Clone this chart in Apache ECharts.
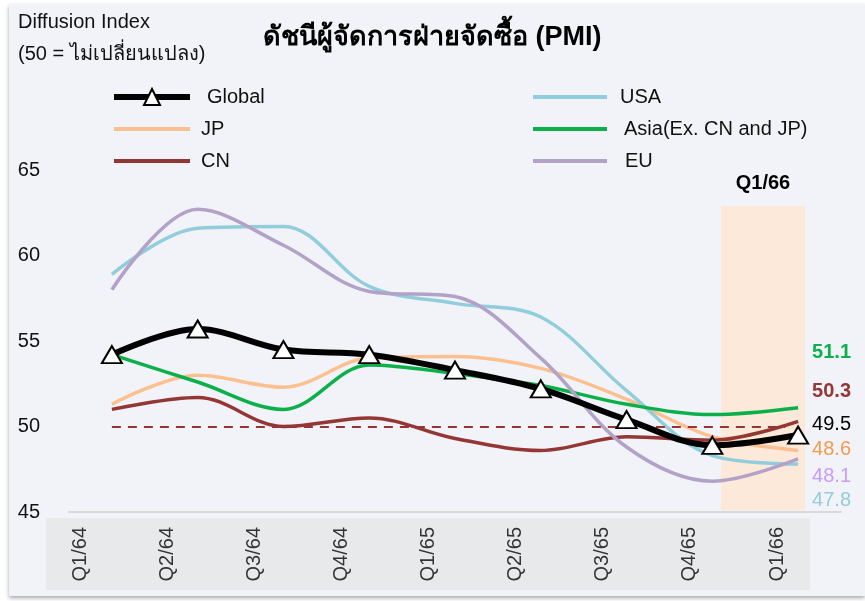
<!DOCTYPE html>
<html lang="th">
<head>
    <meta charset="UTF-8">
    <title>PMI</title>
    <script src="https://cdn.jsdelivr.net/npm/echarts@6/dist/echarts.min.js"></script>
    <style>
        body { margin: 0; background: #fff; }
        #main { width: 865px; height: 601px; }
    </style>
</head>
<body>
<div id="main"></div>

<script type="text/javascript">

    // quarters (Thai Buddhist year)
    var quarters = ['Q1/64', 'Q2/64', 'Q3/64', 'Q4/64', 'Q1/65', 'Q2/65', 'Q3/65', 'Q4/65', 'Q1/66'];

    var globalPmi = [54.2, 55.7, 54.5, 54.2, 53.3, 52.2, 50.4, 48.9, 49.5];
    var usaPmi    = [58.9, 61.6, 61.7, 58.2, 57.2, 56.4, 52.1, 48.3, 47.8];
    var jpPmi     = [51.3, 53.0, 52.3, 54.0, 54.1, 53.4, 51.6, 49.4, 48.6];
    var asiaPmi   = [54.2, 52.6, 51.0, 53.6, 53.1, 52.4, 51.3, 50.7, 51.1];
    var cnPmi     = [51.0, 51.7, 50.0, 50.5, 49.3, 48.6, 49.4, 49.2, 50.3];
    var euPmi     = [58.0, 62.7, 60.6, 57.9, 57.6, 54.0, 48.8, 46.8, 48.1];

    var FONT = '"Liberation Sans", Arial, "Noto Sans", sans-serif';

    function pairs(arr) {
        return arr.map(function (v, i) { return [i, v]; });
    }

    function lineSeries(name, data, color, width, dy, bold) {
        return {
            name: name,
            type: 'line',
            data: pairs(data),
            smooth: 0.35,
            symbol: 'none',
            lineStyle: { color: color, width: width },
            itemStyle: { color: color },
            endLabel: {
                show: true,
                distance: 14,
                offset: [0, dy],
                color: color,
                fontFamily: FONT,
                fontSize: 20,
                fontWeight: bold ? 'bold' : 'normal',
                formatter: function (p) { return p.value[1].toFixed(1); }
            },
            z: 3
        };
    }

    // plain line legend entry (no symbol)
    function plainItem(name, padLeft) {
        return {
            name: name,
            itemStyle: { opacity: 0 },
            lineStyle: { width: 4 },
            textStyle: { padding: [0, 0, 0, padLeft] }
        };
    }

    var myChart = echarts.init(document.getElementById('main'));

    var series = [
        {
            name: 'Global',
            type: 'line',
            data: pairs(globalPmi),
            smooth: 0.35,
            symbol: 'triangle',
            symbolSize: [20, 17],
            lineStyle: { color: '#000', width: 6 },
            itemStyle: { color: '#fff', borderColor: '#000', borderWidth: 2 },
            endLabel: {
                show: true,
                distance: 14,
                offset: [0, -11],
                color: '#000',
                fontFamily: FONT,
                fontSize: 20,
                formatter: function (p) { return p.value[1].toFixed(1); }
            },
            z: 5
        },
        lineSeries('JP', jpPmi, '#fbc08f', 3.5, -1, false),
        lineSeries('CN', cnPmi, '#943634', 3.5, -30, true),
        lineSeries('USA', usaPmi, '#92cddc', 3.5, 36, false),
        lineSeries('Asia(Ex. CN and JP)', asiaPmi, '#0bb04b', 3.5, -55, true),
        lineSeries('EU', euPmi, '#b3a2c7', 3.5, 17, false)
    ];

    // end label colours differ slightly from the lines for JP / EU
    series[1].endLabel.color = '#f59a4c';
    series[5].endLabel.color = '#c89cf5';

    // highlighted quarter + 50 reference line
    series[2].markLine = {
        silent: true,
        symbol: 'none',
        label: { show: false },
        lineStyle: { color: '#943634', type: [9, 7], width: 2 },
        data: [[{ coord: [0, 50] }, { coord: [7.85, 50] }]]
    };
    series[0].markArea = {
        silent: true,
        itemStyle: { color: '#fde9d9' },
        label: {
            show: true, position: 'top', distance: 12,
            color: '#000', fontFamily: FONT, fontSize: 20, fontWeight: 'bold'
        },
        data: [[{ name: 'Q1/66', coord: [7.1, 45.1] }, { coord: [8.08, 62.9] }]]
    };

    // hidden series for the label axis grid
    series.push({
        type: 'line',
        xAxisIndex: 1,
        yAxisIndex: 1,
        data: quarters.map(function () { return null; }),
        silent: true
    });

    myChart.setOption({
        animation: false,
        backgroundColor: 'transparent',
        textStyle: { fontFamily: FONT },
        graphic: [
            {
                type: 'rect',
                shape: { x: 9, y: 4, width: 856, height: 592 },
                style: { fill: '#f2f3f8', shadowBlur: 4, shadowOffsetY: 2, shadowColor: 'rgba(0,0,0,0.35)' },
                z: -10
            },
            {
                type: 'rect',
                shape: { x: 46, y: 518, width: 764, height: 72 },
                style: { fill: '#e8e9eb' },
                z: -9
            },
            {
                type: 'text', left: 18, top: 12,
                style: { text: 'Diffusion Index', fontSize: 20, fontFamily: FONT, fill: '#111' }
            },
            {
                type: 'text', left: 18, top: 44,
                style: { text: '(50 = ไม่เปลี่ยนแปลง)', fontSize: 20, fontFamily: FONT, fill: '#111' }
            },
            {
                type: 'text', left: 263, top: 24,
                style: { text: 'ดัชนีผู้จัดการฝ่ายจัดซื้อ (PMI)', fontSize: 27, fontWeight: 'bold', fontFamily: FONT, fill: '#000' }
            }
        ],
        legend: [
            {
                left: 106, top: 82, orient: 'vertical', itemGap: 12,
                itemWidth: 76, itemHeight: 20,
                textStyle: { fontSize: 20, fontFamily: FONT, color: '#111' },
                data: [
                    { name: 'Global', lineStyle: { width: 6 }, textStyle: { padding: [0, 0, 0, 12] } },
                    plainItem('JP', 6),
                    plainItem('CN', 6)
                ]
            },
            {
                left: 526, top: 82, orient: 'vertical', itemGap: 12,
                itemWidth: 74, itemHeight: 20,
                textStyle: { fontSize: 20, fontFamily: FONT, color: '#111' },
                data: [
                    plainItem('USA', 8),
                    plainItem('Asia(Ex. CN and JP)', 12),
                    plainItem('EU', 13)
                ]
            }
        ],
        grid: [
            { left: 69, right: 24, top: 170, bottom: 89 },
            { left: 80, right: 88, top: 170, bottom: 89 }
        ],
        xAxis: [
            {
                type: 'value', min: -0.5, max: 8.5, gridIndex: 0,
                axisLine: { show: true, lineStyle: { color: '#d9d9d9', width: 2 } },
                axisTick: { show: false }, axisLabel: { show: false }, splitLine: { show: false }
            },
            {
                type: 'category', data: quarters, boundaryGap: false, gridIndex: 1,
                axisLine: { show: false }, axisTick: { show: false },
                axisLabel: { rotate: 90, margin: 15, fontSize: 20, fontFamily: FONT, color: '#333' }
            }
        ],
        yAxis: [
            {
                type: 'value', min: 45, max: 65, interval: 5, gridIndex: 0,
                axisLine: { show: false }, axisTick: { show: false }, splitLine: { show: false },
                axisLabel: { margin: 29, fontSize: 20, fontFamily: FONT, color: '#111' }
            },
            {
                type: 'value', min: 45, max: 65, gridIndex: 1, show: false
            }
        ],
        series: series
    });

</script>
</body>
</html>
